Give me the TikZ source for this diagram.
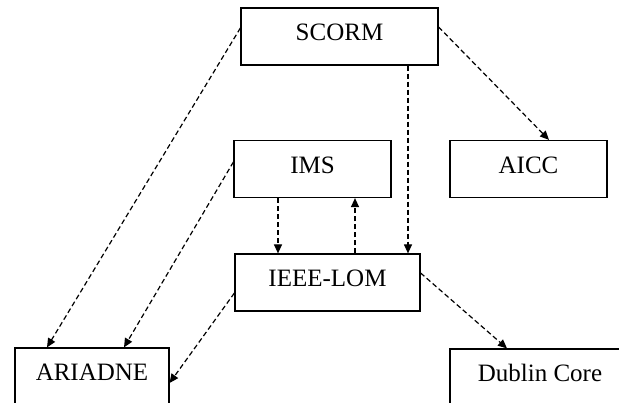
\documentclass[tikz,border=0pt]{standalone}
\usepackage{fontspec}
\setmainfont{Liberation Serif}
\usetikzlibrary{arrows.meta}
\begin{document}
\begin{tikzpicture}[x=1pt, y=-1pt]
        \tikzstyle{box}=[draw, rectangle, line width=1.2pt, minimum height=57pt, inner sep=0pt, font=\fontsize{25}{30}\selectfont, text height=16pt, text depth=7pt]
        \tikzstyle{link}=[draw, line width=1.2pt, dash pattern=on 5pt off 3pt, -{Triangle[length=9pt, width=8pt]}]

        \path[use as bounding box, clip] (0,0) rectangle (619,403);

        \node[box, minimum width=197pt] (scorm) at (339.5,36.5) {SCORM};
        \node[box, minimum width=157pt] (ims) at (312.5,169) {IMS};
        \node[box, minimum width=157pt] (aicc) at (528.5,169) {AICC};
        \node[box, minimum width=185pt] (lom) at (327.5,282.5) {IEEE-LOM};
        \node[box, minimum width=154pt] (ariadne) at (92,376.5) {ARIADNE};
        \node[box, minimum width=180pt] (dublin) at (540,377.5) {Dublin Core};

        \coordinate (sd) at ([xshift=68.5pt]scorm.south);
        \coordinate (id) at ([xshift=-34.5pt]ims.south);
        \coordinate (iu) at ([xshift=42.5pt]ims.south);

        \draw[link] ([yshift=8.5pt]scorm.west) -- ([xshift=-45pt]ariadne.north);
        \draw[link] (sd) -- (sd |- lom.north);
        \draw[link] ([yshift=9.5pt]scorm.east) -- ([xshift=20.5pt]aicc.north);
        \draw[link] ([yshift=7pt]ims.west) -- ([xshift=32pt]ariadne.north);
        \draw[link] (id) -- (id |- lom.north);
        \draw[link] (iu |- lom.north) -- (iu);
        \draw[link] ([yshift=-10.5pt]lom.west) -- ([yshift=-6.5pt]ariadne.east);
        \draw[link] ([yshift=9.5pt]lom.east) -- ([xshift=-33pt]dublin.north);
\end{tikzpicture}
\end{document}
